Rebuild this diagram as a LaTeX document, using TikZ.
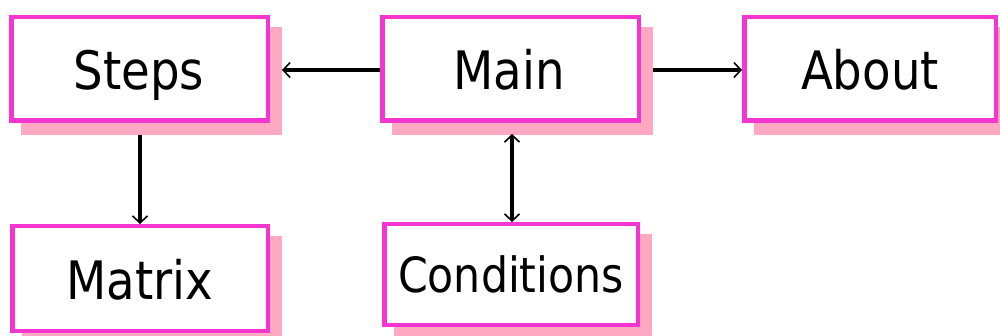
\documentclass[tikz,border=0pt]{standalone}
\usepackage{fontspec}
\setmainfont{DejaVu Sans}[FakeStretch=0.88]
\usetikzlibrary{arrows.meta}
\definecolor{bordc}{HTML}{F535D0}
\definecolor{shadc}{HTML}{FFA8C2}
\tikzset{
  shad/.style={fill=shadc, draw=none},
  boxb/.style={fill=white, draw=bordc, line width=4.5pt},
  lbl/.style={inner sep=0pt, anchor=base, font=\fontsize{53}{60}\selectfont},
  lbls/.style={inner sep=0pt, anchor=base, font=\fontsize{48.5}{55}\selectfont},
  tipb/.tip={Straight Barb[length=7pt,width=15pt,line width=1.6pt]},
  conn/.style={line width=3.2pt, -tipb},
  conn2/.style={line width=3.2pt, tipb-tipb},
}
\begin{document}
\begin{tikzpicture}[x=1pt,y=-1pt]
\useasboundingbox (0,0) rectangle (1000,336);
\begin{scope}
\clip (0,0) rectangle (1000,336);
% shadows (offset 12)
\fill[shad] (21,27) rectangle (282,135);
\fill[shad] (392,27) rectangle (653,135);
\fill[shad] (754,27) rectangle (1010,135);
\fill[shad] (22,236) rectangle (282,345);
\fill[shad] (394,234) rectangle (652,339);
% boxes (outer edge measured; inset by half line width)
\draw[boxb] (11.25,17.25) rectangle (267.75,120.75);
\draw[boxb] (382.25,17.25) rectangle (638.75,120.75);
\draw[boxb] (744.25,17.25) rectangle (995.75,120.75);
\draw[boxb] (12.25,226.25) rectangle (267.75,330.75);
\draw[boxb] (384.25,224.25) rectangle (637.75,324.75);
\end{scope}
% labels
\node[lbl] (steps) at (139,90) {Steps};
\node[lbl] (main) at (509,90) {Main};
\node[lbl] (about) at (870,90) {About};
\node[lbl] (matrix) at (140,300) {Matrix};
\node[lbls] (cond) at (511,292) {Conditions};
% connector end points on box/shadow edges
\coordinate (mainL) at (380,70);
\coordinate (stepsR) at (282,70);
\coordinate (mainR) at (653,70);
\coordinate (aboutL) at (742,70);
\coordinate (stepsB) at (140,135);
\coordinate (matrixT) at (140,224);
\coordinate (mainB) at (512,134);
\coordinate (condT) at (512,222);
\draw[conn] (mainL) -- (stepsR);
\draw[conn] (mainR) -- (aboutL);
\draw[conn] (stepsB) -- (matrixT);
\draw[conn2] (mainB) -- (condT);
\end{tikzpicture}
\end{document}
